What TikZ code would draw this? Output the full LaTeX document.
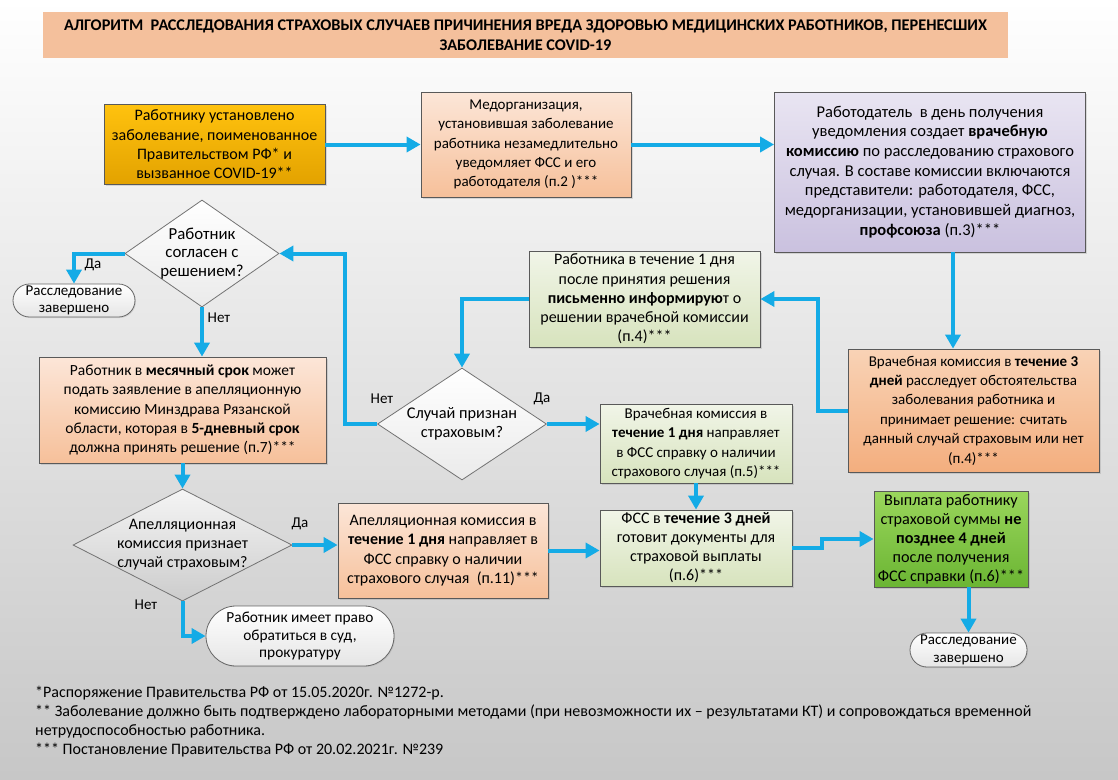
\documentclass[tikz,border=0pt]{standalone}
\usepackage{fontspec}
\setmainfont{Carlito}
\usepackage{tikz}
\usetikzlibrary{shapes.geometric,shapes.misc,arrows.meta,shadows}

\definecolor{flowblue}{HTML}{14ABE6}
\definecolor{titlefill}{HTML}{F4C09C}
\definecolor{gold1}{HTML}{FFC20E}
\definecolor{gold2}{HTML}{E3A200}
\definecolor{peach1}{HTML}{FCE6D8}
\definecolor{peach2}{HTML}{F6C09A}
\definecolor{salmon1}{HTML}{F9D3B6}
\definecolor{salmon2}{HTML}{F3AE7E}
\definecolor{lav1}{HTML}{E9E5F2}
\definecolor{lav2}{HTML}{CAC1DF}
\definecolor{lgreen1}{HTML}{F1F5E8}
\definecolor{lgreen2}{HTML}{D7E3BD}
\definecolor{green1}{HTML}{9AD65C}
\definecolor{green2}{HTML}{6BB533}

\newcommand{\fsz}[2]{\fontsize{#1}{#2}\selectfont}

\begin{document}
\begin{tikzpicture}
  [x=1pt,y=-1pt,
   every node/.style={align=center,inner sep=0pt,font=\fsz{16}{19.4}},
   box/.style={rectangle,draw=black!65,line width=.8pt,
     drop shadow={opacity=.25,shadow xshift=1.5pt,shadow yshift=-1.5pt}},
   gold/.style={top color=gold1,bottom color=gold2},
   peach/.style={top color=peach1,bottom color=peach2},
   salmon/.style={top color=salmon1,bottom color=salmon2},
   lav/.style={top color=lav1,bottom color=lav2},
   lgreen/.style={top color=lgreen1,bottom color=lgreen2},
   green/.style={top color=green1,bottom color=green2},
   decision/.style={diamond,draw=black!55,line width=.8pt,inner sep=0pt,
     top color=white,bottom color=black!8},
   endbox/.style={rounded rectangle,draw=black!60,line width=.8pt,inner sep=1pt,
     top color=white,bottom color=black!10,font=\fsz{15}{17.5},
     drop shadow={opacity=.2,shadow xshift=1pt,shadow yshift=-1pt}},
   answer/.style={font=\fsz{15}{16}},
   flow/.style={draw=flowblue,line width=4pt,-{Triangle[length=14pt,width=15pt]}}]

  \useasboundingbox (0,0) rectangle (1118,779);
  \shade[top color=white,bottom color=black!22] (0,0) rectangle (1118,779);

  % title
  \node[rectangle,fill=titlefill,minimum width=965pt,minimum height=46pt,
    font=\bfseries\fsz{16.3}{20.5}] (title) at (525.5,35)
    {АЛГОРИТМ~ РАССЛЕДОВАНИЯ СТРАХОВЫХ СЛУЧАЕВ ПРИЧИНЕНИЯ ВРЕДА ЗДОРОВЬЮ МЕДИЦИНСКИХ РАБОТНИКОВ, ПЕРЕНЕСШИХ\\
     ЗАБОЛЕВАНИЕ COVID-19};

  % top row
  \node[box,gold,minimum width=221pt,minimum height=80pt] (b1) at (214.5,144.5)
    {Работнику установлено\\ заболевание, поименованное\\ Правительством РФ* и\\ вызванное COVID-19**};
  \node[box,peach,minimum width=210pt,minimum height=105pt,font=\fsz{15}{19.4}] (b2) at (526,144.5)
    {Медорганизация,\\ установившая заболевание\\ работника незамедлительно\\ уведомляет ФСС и его\\ работодателя (п.2 )***};
  \node[box,lav,minimum width=311pt,minimum height=160pt,font=\fsz{16.5}{19.7}] (b3) at (930,172)
    {Работодатель~ в день получения\\ уведомления создает \textbf{врачебную}\\
     \textbf{комиссию} по расследованию страхового\\ случая. В составе комиссии включаются\\
     представители: работодателя, ФСС,\\ медорганизации, установившей диагноз,\\ \textbf{профсоюза} (п.3)***};

  % right column
  \node[box,salmon,minimum width=251pt,minimum height=123pt,font=\fsz{15}{19.4}] (b4) at (973.5,410.5)
    {Врачебная комиссия в \textbf{течение 3}\\ \textbf{дней} расследует обстоятельства\\ заболевания работника и\\
     принимает решение: считать\\ данный случай страховым или нет\\ (п.4)***};
  \node[box,lgreen,minimum width=231pt,minimum height=96pt,font=\fsz{16}{19.2}] (b5) at (644.5,299)
    {Работника в течение 1 дня\\ после принятия решения\\ \textbf{письменно информирую}т о\\ решении врачебной комиссии\\ (п.4)***};
  \node[decision,minimum width=169pt,minimum height=112pt] (d1) at (462,424) {};
  \node[font=\fsz{16.3}{19}] (d1txt) at (d1) {Случай признан\\ страховым?};
  \node[box,lgreen,minimum width=192pt,minimum height=79pt,font=\fsz{15}{19.2}] (b6) at (696,443.5)
    {Врачебная комиссия в\\ \textbf{течение 1 дня} направляет\\ в ФСС справку о наличии\\ страхового случая (п.5)***};
  \node[box,lgreen,minimum width=192pt,minimum height=76pt,font=\fsz{16}{19}] (b7) at (696,548)
    {ФСС в \textbf{течение 3 дней}\\ готовит документы для\\ страховой выплаты\\ (п.6)***};
  \node[box,green,minimum width=154pt,minimum height=96pt,font=\fsz{16.2}{19}] (b8) at (951,539)
    {Выплата работнику\\ страховой суммы \textbf{не}\\ \textbf{позднее 4 дней}\\ после получения\\ ФСС справки (п.6)***};
  \node[endbox,minimum width=119pt,minimum height=34pt] (e1) at (968.5,650)
    {Расследование\\ завершено};

  % left column
  \node[decision,minimum width=154pt,minimum height=107pt] (d0) at (202,253.5) {};
  \node[font=\fsz{16.8}{18.5}] (d0txt) at (d0) {Работник\\ согласен с\\ решением?};
  \node[endbox,minimum width=124pt,minimum height=33pt] (e0) at (74,300.5)
    {Расследование\\ завершено};
  \node[box,peach,minimum width=287pt,minimum height=106pt,font=\fsz{15.5}{19.4}] (b9) at (182.5,410)
    {Работник в \textbf{месячный срок} может\\ подать заявление в апелляционную\\ комиссию Минздрава Рязанской\\
     области, которая в \textbf{5-дневный срок}\\ должна принять решение (п.7)***};
  \node[decision,top color=black!4,bottom color=black!20,minimum width=219pt,minimum height=112pt] (d2) at (182.5,545) {};
  \node[font=\fsz{16}{19}] (d2txt) at (d2) {Апелляционная\\ комиссия признает\\ случай страховым?};
  \node[box,peach,minimum width=210pt,minimum height=95pt] (b10) at (443,550.5)
    {Апелляционная комиссия в\\ \textbf{течение 1 дня} направляет в\\ ФСС справку о наличии\\ страхового случая~ (п.11)***};
  \node[endbox,minimum width=190pt,minimum height=60pt,font=\fsz{15.4}{17.5}] (e2) at (300,636)
    {Работник имеет право\\ обратиться в суд,\\ прокуратуру};

  % answers
  \node[answer] (a1) at (93,265) {Да};
  \node[answer] (a2) at (219,318) {Нет};
  \node[answer] (a3) at (382,399) {Нет};
  \node[answer] (a4) at (542,399) {Да};
  \node[answer] (a5) at (300,524) {Да};
  \node[answer] (a6) at (146,605) {Нет};

  % connectors
  \draw[flow] (b1.east) -- (b2.west);
  \draw[flow] (b2.east) -- (b2.east -| b3.west);
  \draw[flow] ([xshift=23pt]b3.south) -- ([xshift=23pt]b3.south |- b4.north);
  \draw[flow] (b4.west) -- ++(-30,0) |- (b5.east);
  \draw[flow] (b5.west) -| (d1.north);
  \draw[flow] (d1.east) -- (d1.east -| b6.west);
  \draw[flow] (d1.west) -- ++(-32,0) |- (d0.east);
  \draw[flow] (d0.west) -| (e0.north);
  \draw[flow] (d0.south) -- (d0.south |- b9.north);
  \draw[flow] (b9.south) -- (d2.north);
  \draw[flow] (d2.east) -- (d2.east -| b10.west);
  \draw[flow] (d2.south) |- (e2.west);
  \draw[flow] (b10.east) -- (b10.east -| b7.west);
  \draw[flow] (b6.south) -- (b7.north);
  \draw[flow] (b7.east) -- ++(30,0) |- (b8.west);
  \draw[flow] (e1.north |- b8.south) -- (e1.north);

  % notes
  \node[anchor=north west,align=left,font=\fsz{16}{19}] (notes) at (35,686)
    {*Распоряжение Правительства РФ от 15.05.2020г. №1272-р.\\
     ** Заболевание должно быть подтверждено лабораторными методами (при невозможности их -- результатами КТ) и сопровождаться временной\\
     нетрудоспособностью работника.\\
     *** Постановление Правительства РФ от 20.02.2021г. №239};

\end{tikzpicture}
\end{document}
